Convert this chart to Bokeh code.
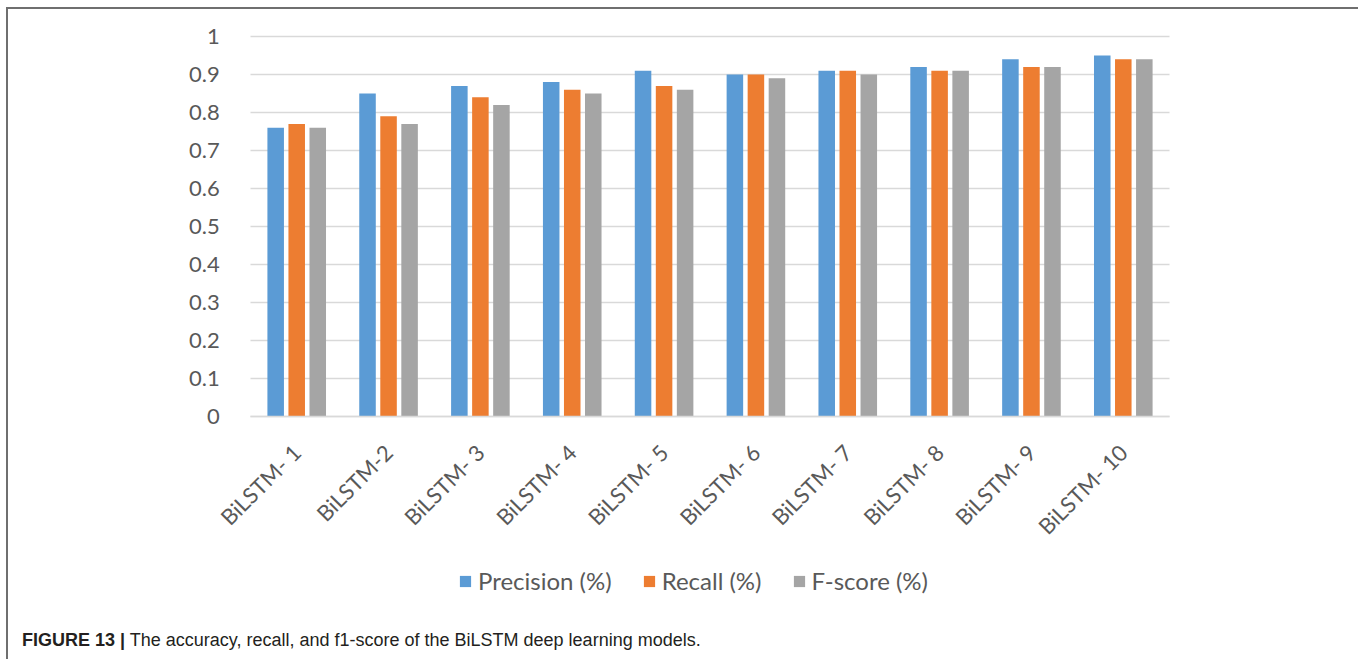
from math import pi
from bokeh.plotting import figure
from bokeh.layouts import column
from bokeh.models import (ColumnDataSource, FactorRange, FixedTicker, NumeralTickFormatter,
                          Legend, LegendItem, Range1d, Div)
from bokeh.transform import dodge
from bokeh.embed import file_html
from bokeh.resources import INLINE

models = ["BiLSTM- 1", "BiLSTM-2", "BiLSTM- 3", "BiLSTM- 4", "BiLSTM- 5",
          "BiLSTM- 6", "BiLSTM- 7", "BiLSTM- 8", "BiLSTM- 9", "BiLSTM- 10"]
precision = [0.76, 0.85, 0.87, 0.88, 0.91, 0.90, 0.91, 0.92, 0.94, 0.95]
recall = [0.77, 0.79, 0.84, 0.86, 0.87, 0.90, 0.91, 0.91, 0.92, 0.94]
fscore = [0.76, 0.77, 0.82, 0.85, 0.86, 0.89, 0.90, 0.91, 0.92, 0.94]
series_names = ["Precision (%)", "Recall (%)", "F-score (%)"]
y_ticks = [0, 0.1, 0.2, 0.3, 0.4, 0.5, 0.6, 0.7, 0.8, 0.9, 1]
caption_bold = "FIGURE 13 |"
caption_text = "The accuracy, recall, and f1-score of the BiLSTM deep learning models."

colors = ["#5b9bd5", "#ed7d31", "#a5a5a5"]
FONT = "Lato"
TXT = "#595959"

# ---- layout geometry (pixels) ----
FIG_W, FIG_H = 1346, 621
PX_PER_UNIT = 380          # vertical px for value 0..1
PX_PER_CAT = 91.8          # horizontal px per category
PAD = 0.7                  # extra room (in categories) on both sides so tick labels are not clipped
PLOT_LEFT = 242            # figure x where the category area begins
TOP_PAD_PX = 15            # room above the value 1 line
FRAME_TOP = 27 - TOP_PAD_PX
FRAME_H = 576 + TOP_PAD_PX
y_end = 1 + TOP_PAD_PX / PX_PER_UNIT
y_start = y_end - FRAME_H / PX_PER_UNIT
n = len(models)
mbl = int(round(PLOT_LEFT - PAD * PX_PER_CAT))
frame_w = (n + 2 * PAD) * PX_PER_CAT
mbr = int(round(FIG_W - mbl - frame_w))

src = ColumnDataSource(dict(model=models, precision=precision, recall=recall, fscore=fscore))

xr = FactorRange(*models, range_padding=PAD, range_padding_units="absolute")
p = figure(x_range=xr, y_range=Range1d(y_start, y_end),
           width=FIG_W, height=FIG_H, output_backend="svg", toolbar_location=None,
           min_border_left=mbl, min_border_right=mbr, min_border_top=FRAME_TOP,
           min_border_bottom=FIG_H - FRAME_TOP - FRAME_H)
p.outline_line_color = None
p.background_fill_color = "white"
p.border_fill_color = "white"

renderers = []
for off, col, c in zip([-0.229, 0.0, 0.229], ["precision", "recall", "fscore"], colors):
    r = p.vbar(x=dodge("model", off, range=p.x_range), top=col, width=0.18, source=src,
               fill_color=c, line_color=None)
    renderers.append(r)

p.xaxis.fixed_location = 0
p.xaxis.bounds = (0, n)
p.xaxis.axis_line_color = "#d9d9d9"
p.xaxis.axis_line_width = 1.5
p.xaxis.major_tick_line_color = None
p.xaxis.minor_tick_line_color = None
p.xaxis.major_label_orientation = pi / 4
p.xaxis.major_label_text_font = FONT
p.xaxis.major_label_text_font_size = "22px"
p.xaxis.major_label_text_color = TXT
p.xaxis.major_label_standoff = 26

p.yaxis.fixed_location = 0
p.yaxis.bounds = (0, 1)
p.yaxis.ticker = FixedTicker(ticks=y_ticks)
p.yaxis.formatter = NumeralTickFormatter(format="0.[0]")
p.yaxis.axis_line_color = None
p.yaxis.major_tick_line_color = None
p.yaxis.minor_tick_line_color = None
p.yaxis.major_label_text_font = FONT
p.yaxis.major_label_text_font_size = "22px"
p.yaxis.major_label_text_color = TXT
p.yaxis.major_label_standoff = 25

p.xgrid.grid_line_color = None
p.ygrid.ticker = FixedTicker(ticks=y_ticks)
p.ygrid.cross_bounds = (0, n)
p.ygrid.grid_line_color = "#d9d9d9"
p.ygrid.grid_line_width = 1.5

legend = Legend(items=[LegendItem(label=s, renderers=[r]) for s, r in zip(series_names, renderers)],
                orientation="horizontal", location=(458 - 8 - mbl, 17),
                glyph_width=14, glyph_height=14, label_standoff=6, spacing=30,
                padding=0, margin=0, border_line_color=None, background_fill_alpha=0,
                label_text_font=FONT, label_text_font_size="24px", label_text_color=TXT)
p.add_layout(legend, "center")

cap = Div(text="<b>%s</b> %s" % (caption_bold, caption_text), width=FIG_W,
          styles={"font-family": "Liberation Sans", "font-size": "18px", "color": "#231f20",
                  "padding-left": "9px", "margin-top": "-2px"})

root = column(p, cap, styles={"border-left": "2px solid #6f6f6f", "border-top": "2px solid #6f6f6f",
                              "border-right": "2px solid #6f6f6f", "margin-left": "6px",
                              "margin-top": "7px", "background": "white"})

open("out.html", "w").write(file_html(root, INLINE))
